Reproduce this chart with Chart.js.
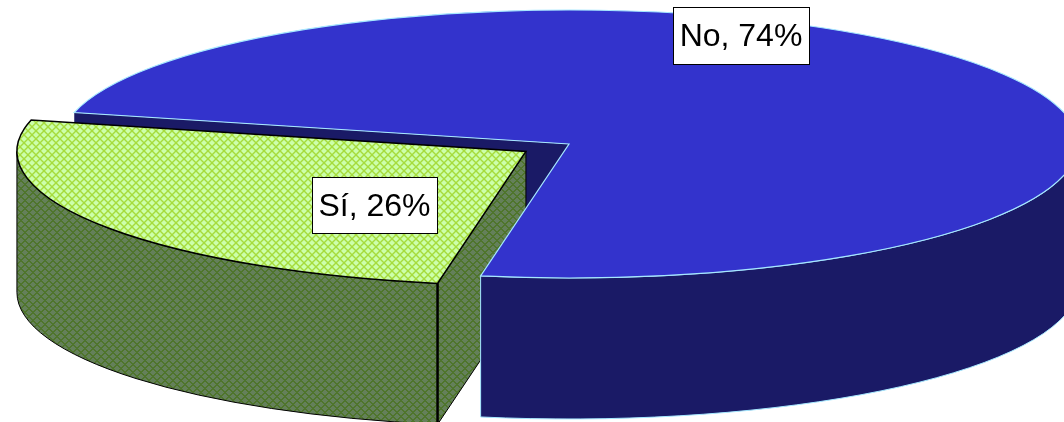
<!DOCTYPE html>
<html>
<head>
  <script src="https://cdnjs.cloudflare.com/ajax/libs/Chart.js/4.4.1/chart.umd.min.js"></script>
  <style>
    body { margin: 0; background: white; }
    canvas { display: block; }
  </style>
</head>
<body>
  <canvas id="pie" width="1064" height="422"></canvas>
  <script>
    const categories = ['Sí', 'No'];
    const percents = [26, 74];

    // ellipse the flat pie gets squashed into, and height of the side wall
    const cx = 569, cy = 144, rx = 509, ry = 134, depth = 141;
    const blue = '#3333cc', darkBlue = '#1a1a66', blueEdge = '#a6e8ff';

    // small diagonal lattice, same tile for top and side in two tones
    function lattice(bg, fg) {
      const tile = document.createElement('canvas');
      tile.width = tile.height = 8;
      const c = tile.getContext('2d');
      c.fillStyle = bg;
      c.fillRect(0, 0, 8, 8);
      c.fillStyle = fg;
      for (let y = 0; y < 8; y++) {
        for (let x = 0; x < 8; x++) {
          if ((x + y) % 8 < 2 || (x - y + 8) % 8 < 2) c.fillRect(x, y, 1, 1);
        }
      }
      return c.createPattern(tile, 'repeat');
    }
    const greenTop = lattice('#ccffaa', '#a6dc3c');
    const greenSide = lattice('#64805a', '#4f752c');

    function wall(ctx, x, y, a1, a2) {
      ctx.beginPath();
      ctx.ellipse(x, y, rx, ry, 0, a1, a2);
      ctx.ellipse(x, y + depth, rx, ry, 0, a2, a1, true);
      ctx.closePath();
    }

    function cutWall(ctx, x, y, a) {
      const ex = x + rx * Math.cos(a), ey = y + ry * Math.sin(a);
      ctx.beginPath();
      ctx.moveTo(x, y);
      ctx.lineTo(ex, ey);
      ctx.lineTo(ex, ey + depth);
      ctx.lineTo(x, y + depth);
      ctx.closePath();
    }

    function topOutline(ctx, x, y, a1, a2) {
      ctx.beginPath();
      ctx.moveTo(x, y);
      ctx.ellipse(x, y, rx, ry, 0, a1, a2);
      ctx.closePath();
    }

    function slicePos(chart) {
      const [si, no] = chart.getDatasetMeta(0).data;
      const sx = rx / no.outerRadius, sy = ry / no.outerRadius;
      const half = (si.startAngle + si.endAngle) / 2;
      const shift = (si.options.offset || 0) / 4;
      return {
        si, no, sx, sy,
        gx: cx + Math.cos(half) * shift * sx,
        gy: cy + Math.sin(half) * shift * sy
      };
    }

    const pie3d = {
      id: 'pie3d',
      beforeDatasetsDraw(chart) {
        const ctx = chart.ctx;
        const { si, no, sx, sy, gx, gy } = slicePos(chart);

        // back wall of the blue slice, mostly hidden later
        ctx.fillStyle = darkBlue;
        cutWall(ctx, cx, cy, no.startAngle);
        ctx.fill();

        // green walls
        ctx.fillStyle = greenSide;
        ctx.strokeStyle = '#000';
        ctx.lineWidth = 1;
        cutWall(ctx, gx, gy, si.startAngle);
        ctx.fill();
        ctx.stroke();
        wall(ctx, gx, gy, si.startAngle, Math.PI);
        ctx.fill();
        ctx.stroke();
        const ex = gx + rx * Math.cos(si.startAngle), ey = gy + ry * Math.sin(si.startAngle);
        ctx.lineWidth = 2.5;
        ctx.beginPath();
        ctx.moveTo(ex, ey);
        ctx.lineTo(ex, ey + depth);
        ctx.stroke();

        // blue front wall
        ctx.fillStyle = darkBlue;
        ctx.strokeStyle = blueEdge;
        ctx.lineWidth = 1;
        wall(ctx, cx, cy, 0, no.endAngle - Math.PI * 2);
        ctx.fill();
        ctx.stroke();

        // the library draws the two tops inside this squashed transform
        ctx.save();
        ctx.translate(cx, cy);
        ctx.scale(sx, sy);
        ctx.translate(-no.x, -no.y);
        greenTop.setTransform(new DOMMatrix().scale(1 / sx, 1 / sy));
      },
      afterDatasetsDraw(chart) {
        const ctx = chart.ctx;
        ctx.restore();
        const { si, no, gx, gy } = slicePos(chart);

        ctx.lineWidth = 1.5;
        ctx.strokeStyle = '#000';
        topOutline(ctx, gx, gy, si.startAngle, si.endAngle);
        ctx.stroke();
        ctx.strokeStyle = blueEdge;
        ctx.lineWidth = 1.2;
        topOutline(ctx, cx, cy, no.startAngle, no.endAngle);
        ctx.stroke();

        // data labels
        const boxes = [[312, 177, 125, 56], [673, 7, 136, 57]];
        ctx.font = '32px "Liberation Sans"';
        ctx.textAlign = 'center';
        ctx.textBaseline = 'middle';
        categories.forEach((name, i) => {
          const [x, y, w, h] = boxes[i];
          ctx.fillStyle = '#fff';
          ctx.fillRect(x, y, w, h);
          ctx.strokeStyle = '#000';
          ctx.lineWidth = 1;
          ctx.strokeRect(x + 0.5, y + 0.5, w, h);
          ctx.fillStyle = '#000';
          ctx.fillText(name + ', ' + percents[i] + '%', x + w / 2, y + h / 2 + 2);
        });
      }
    };

    new Chart(document.getElementById('pie'), {
      type: 'pie',
      data: {
        labels: categories,
        datasets: [{
          data: percents,
          backgroundColor: [greenTop, blue],
          borderWidth: 0,
          offset: [71, 0],
          clip: false
        }]
      },
      options: {
        responsive: false,
        animation: false,
        events: [],
        rotation: 190,
        layout: { padding: 0 },
        plugins: { legend: { display: false }, tooltip: { enabled: false } }
      },
      plugins: [pie3d]
    });
  </script>
</body>
</html>
